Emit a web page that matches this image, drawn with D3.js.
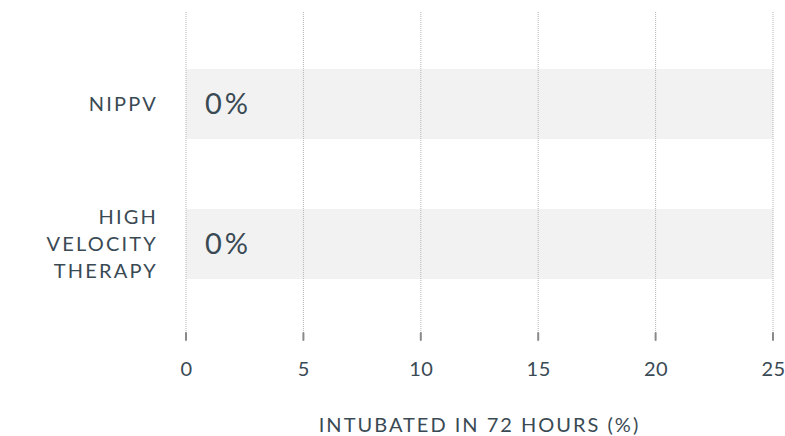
<!DOCTYPE html>
<html>
<head>
<meta charset="utf-8">
<script src="https://cdn.jsdelivr.net/npm/d3@7"></script>
<style>
  html, body { margin: 0; padding: 0; background: #fff; }
  svg { display: block; font-family: Lato, "Open Sans", sans-serif; }
</style>
</head>
<body>
<svg id="chart" width="785" height="436"></svg>
<script>
// Share of patients intubated within 72 hours, by therapy
const categories = [["NIPPV"], ["HIGH", "VELOCITY", "THERAPY"]];
const values = [0, 0];
const xTicks = [0, 5, 10, 15, 20, 25];
const axisTitle = "INTUBATED IN 72 HOURS (%)";

const svg = d3.select("#chart");
const ink = "#3a4a54";
const W = 785;
const left = 186, right = 12;

const x = d3.scaleLinear().domain([0, 25]).range([left, W - right]);
const y = d3.scaleBand().domain(d3.range(categories.length))
  .range([34, 314]).paddingInner(0.5).paddingOuter(0.25);

// Background tracks for each row
svg.append("g").selectAll("rect").data(values).join("rect")
  .attr("x", x(0)).attr("width", x(25) - x(0))
  .attr("y", (d, i) => y(i)).attr("height", y.bandwidth())
  .attr("fill", "#f2f2f2");

// Value bars
svg.append("g").selectAll("rect").data(values).join("rect")
  .attr("x", x(0)).attr("width", d => x(d) - x(0))
  .attr("y", (d, i) => y(i)).attr("height", y.bandwidth())
  .attr("fill", "#5b7f95");

// Dotted vertical gridlines with a small tick at the foot
const grid = svg.append("g");
grid.selectAll("line.grid").data(xTicks).join("line")
  .attr("class", "grid")
  .attr("x1", d => x(d)).attr("x2", d => x(d))
  .attr("y1", 12).attr("y2", 334)
  .attr("stroke", "#b5b5b5").attr("stroke-width", 1)
  .attr("stroke-dasharray", "1,1");
grid.selectAll("line.tick").data(xTicks).join("line")
  .attr("class", "tick")
  .attr("x1", d => x(d)).attr("x2", d => x(d))
  .attr("y1", 333).attr("y2", 340)
  .attr("stroke", "#8a8a8a").attr("stroke-width", 2)
  .attr("stroke-linecap", "round");

// Axis tick labels
const axis = d3.axisBottom(x).tickValues(xTicks).tickSize(0).tickPadding(0);
const ax = svg.append("g").attr("transform", "translate(0,376)").call(axis);
ax.select(".domain").remove();
ax.selectAll("text")
  .attr("dy", 0)
  .attr("font-size", 20).attr("fill", ink)
  .attr("letter-spacing", 0.5)
  .attr("font-family", "Lato, sans-serif");

// Value labels
svg.append("g").selectAll("text").data(values).join("text")
  .attr("x", x(0) + 19)
  .attr("y", (d, i) => y(i) + y.bandwidth() / 2 + 10)
  .attr("font-size", 29).attr("fill", ink)
  .attr("letter-spacing", 3)
  .text(d => d + "%");

// Category labels
const catG = svg.append("g");
categories.forEach((lines, i) => {
  const cy = y(i) + y.bandwidth() / 2;
  const lh = 27;
  const t = catG.append("text")
    .attr("text-anchor", "end")
    .attr("font-size", 20).attr("fill", ink)
    .attr("letter-spacing", 2.2);
  lines.forEach((ln, j) => {
    t.append("tspan").attr("x", 158)
      .attr("y", cy + 7 + (j - (lines.length - 1) / 2) * lh)
      .text(ln);
  });
});

// Axis title
svg.append("text")
  .attr("x", (x(0) + x(25)) / 2).attr("y", 432)
  .attr("text-anchor", "middle")
  .attr("font-size", 20).attr("fill", ink)
  .attr("letter-spacing", 2)
  .text(axisTitle);
</script>
</body>
</html>
